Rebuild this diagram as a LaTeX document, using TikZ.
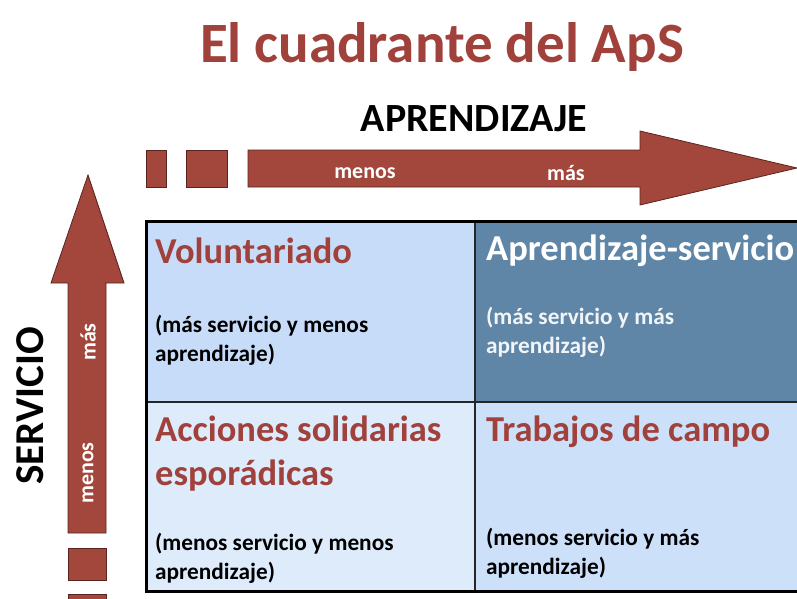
\documentclass[tikz,border=0pt]{standalone}
\usepackage{fontspec}
\setmainfont{Carlito}
\definecolor{apsred}{HTML}{A0413B}
\definecolor{arrowfill}{HTML}{A3463B}
\definecolor{arrowline}{HTML}{5A2520}
\definecolor{cTL}{HTML}{C7DCF9}
\definecolor{cTR}{HTML}{5F86A6}
\definecolor{cBL}{HTML}{DDEBFB}
\definecolor{cBR}{HTML}{CCE0FA}
\tikzset{
  arrowpart/.style={fill=arrowfill, draw=arrowline, line width=0.8pt},
  celltitle/.style={anchor=base west, font=\fontsize{36.5}{40}\selectfont\bfseries, inner sep=0pt},
  cellnote/.style={anchor=base west, font=\fontsize{23.3}{29}\selectfont\bfseries, inner sep=0pt},
  arrowlabel/.style={font=\fontsize{22}{24}\selectfont\bfseries, text=white, inner sep=0pt},
}
\begin{document}
\begin{tikzpicture}[x=1pt,y=-1pt]
\useasboundingbox (0,0) rectangle (797,599);
\fill[white] (0,0) rectangle (797,599);

% title
\node[font=\fontsize{57}{62}\selectfont\bfseries, text=apsred, inner sep=0pt, anchor=base] (title) at (442,63) {El cuadrante del ApS};
\node[font=\fontsize{40}{44}\selectfont\bfseries, inner sep=0pt] (apr) at (474,119) {APRENDIZAJE};

% horizontal arrow
\draw[arrowpart] (146,150) rectangle (166,187);
\draw[arrowpart] (186,150) rectangle (227,187);
\draw[arrowpart] (248,150) -- (640,150) -- (640,131) -- (797,168) -- (640,205) -- (640,187) -- (248,187) -- cycle;
\node[arrowlabel] (hmenos) at (365,173) {menos};
\node[arrowlabel] (hmas) at (566,173) {más};

% vertical arrow
\draw[arrowpart] (68,533) -- (68,283) -- (51,283) -- (88,175) -- (124,283) -- (106,283) -- (106,533) -- cycle;
\draw[arrowpart] (68,548) rectangle (106,580);
\draw[arrowpart] (68,594) rectangle (106,605);
\node[arrowlabel, rotate=90] (vmas) at (88,342) {más};
\node[arrowlabel, rotate=90] (vmenos) at (88,473) {menos};
\node[font=\fontsize{41}{44}\selectfont\bfseries, rotate=90, inner sep=0pt] (serv) at (30,406) {SERVICIO};

% cells
\fill[cTL] (146,221) rectangle (475,402);
\fill[cTR] (475,221) rectangle (800,402);
\fill[cBL] (146,402) rectangle (475,591);
\fill[cBR] (475,402) rectangle (800,591);
\draw[line width=1.8pt, draw=black!85] (475,221) -- (475,591);
\draw[line width=1.8pt, draw=black!85] (146,402) -- (800,402);
\draw[line width=3pt] (146,221) rectangle (802,591);

% texts
\node[celltitle, text=apsred] (vol) at (155,263) {Voluntariado};
\node[cellnote] (voln1) at (155,332) {(más servicio y menos};
\node[cellnote] (voln2) at (155,361) {aprendizaje)};

\node[celltitle, text=white] (aps) at (486,260) {Aprendizaje-servicio};
\node[cellnote, text=white!92!cTR] (apsn1) at (486,324) {(más servicio y más};
\node[cellnote, text=white!92!cTR] (apsn2) at (486,353) {aprendizaje)};

\node[celltitle, text=apsred] (acc1) at (155,441) {Acciones solidarias};
\node[celltitle, text=apsred] (acc2) at (155,485) {esporádicas};
\node[cellnote] (accn1) at (155,550) {(menos servicio y menos};
\node[cellnote] (accn2) at (155,579) {aprendizaje)};

\node[celltitle, text=apsred] (tra) at (486,441) {Trabajos de campo};
\node[cellnote] (tran1) at (486,545) {(menos servicio y más};
\node[cellnote] (tran2) at (486,574) {aprendizaje)};
\end{tikzpicture}
\end{document}
